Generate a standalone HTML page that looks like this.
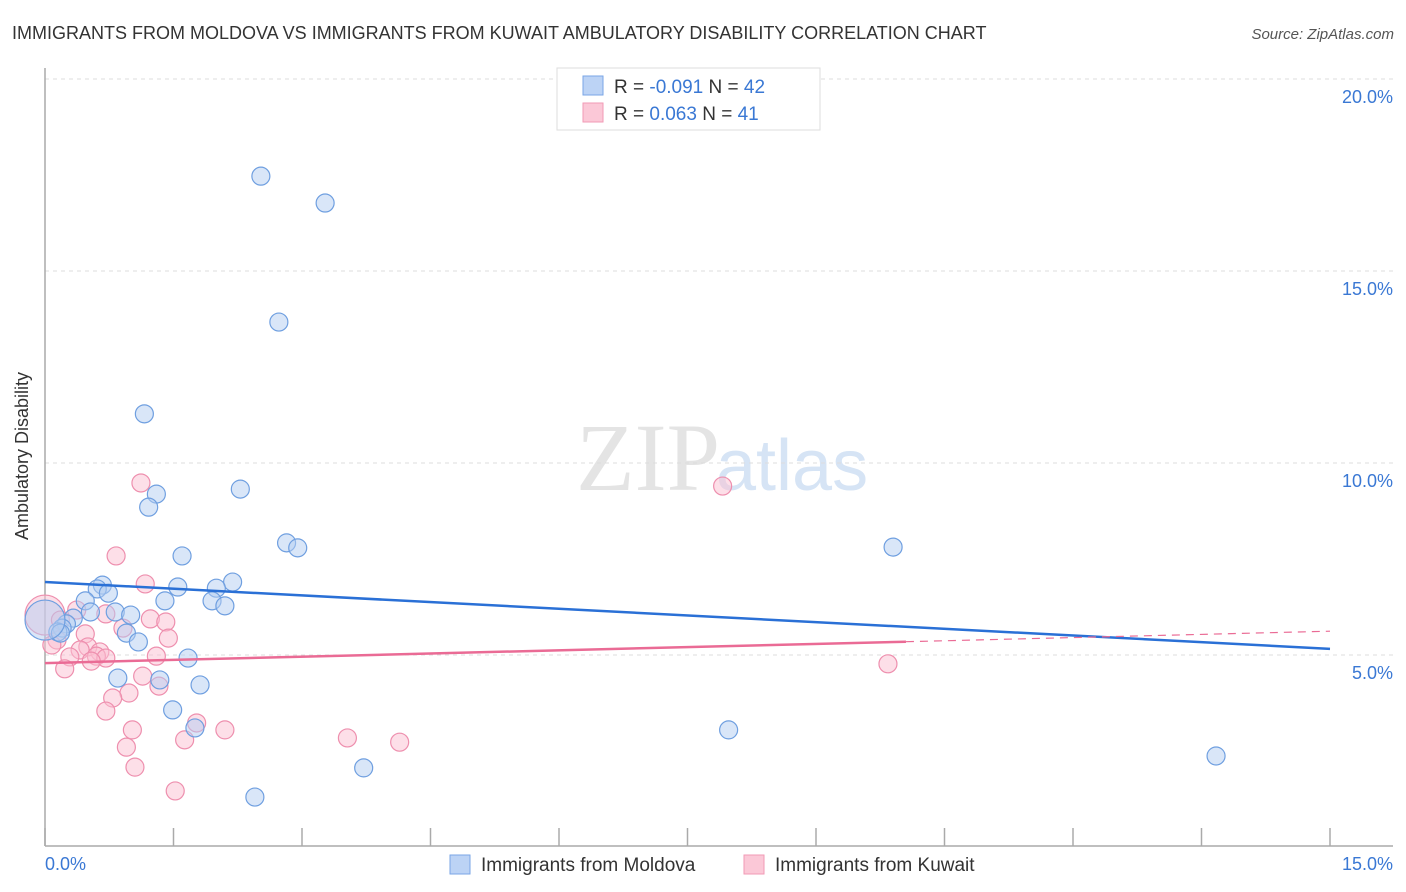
<!DOCTYPE html>
<html><head><meta charset="utf-8"><style>
body{margin:0;background:#fff;font-family:"Liberation Sans",sans-serif;}
svg{display:block}
</style></head><body>
<svg id="chart" width="1406" height="892" xmlns="http://www.w3.org/2000/svg">
<text x="12" y="39" font-size="18" fill="#333">IMMIGRANTS FROM MOLDOVA VS IMMIGRANTS FROM KUWAIT AMBULATORY DISABILITY CORRELATION CHART</text>
<text x="1394" y="39" font-size="15" fill="#555" font-style="italic" text-anchor="end">Source: ZipAtlas.com</text>
<text x="720" y="490" font-size="96" fill="#e4e4e4" text-anchor="end" font-family="Liberation Serif,serif">ZIP</text>
<text x="716" y="490" font-size="72" fill="#d6e4f5">atlas</text>
<g id="grid"></g>
<line x1="45" y1="68" x2="45" y2="846" stroke="#aaa" stroke-width="1.5"/>
<line x1="45" y1="846" x2="1393" y2="846" stroke="#aaa" stroke-width="1.5"/>
<g id="xticks"></g>
<text x="28" y="456" font-size="18" fill="#333" text-anchor="middle" transform="rotate(-90 28 456)">Ambulatory Disability</text>
<text x="45" y="870" font-size="18" fill="#3a78d4">0.0%</text>
<text x="1393" y="870" font-size="18" fill="#3a78d4" text-anchor="end">15.0%</text>
<g id="pts"></g>
<g id="trends"></g>
<g>
<rect x="557" y="68" width="263" height="62" fill="#fff" stroke="#ddd"/>
<rect x="583" y="76" width="20" height="19" fill="#bcd3f5" stroke="#7aa6e6"/>
<rect x="583" y="103" width="20" height="19" fill="#fbc8d7" stroke="#f19ab5"/>
<text x="614" y="93" font-size="19" fill="#333">R = <tspan fill="#3a78d4">-0.091</tspan>   N = <tspan fill="#3a78d4">42</tspan></text>
<text x="614" y="120" font-size="19" fill="#333">R =  <tspan fill="#3a78d4">0.063</tspan>   N =  <tspan fill="#3a78d4">41</tspan></text>
</g>
<g>
<rect x="450" y="855" width="20" height="19" fill="#bcd3f5" stroke="#7aa6e6"/>
<text x="481" y="871" font-size="19" fill="#333">Immigrants from Moldova</text>
<rect x="744" y="855" width="20" height="19" fill="#fbc8d7" stroke="#f19ab5"/>
<text x="775" y="871" font-size="19" fill="#333">Immigrants from Kuwait</text>
</g>
</svg>
<script>
const yTicks=[5,10,15,20];
const yTickLabels=["5.0%","10.0%","15.0%","20.0%"];
const xTicks=[0,1.5,3,4.5,6,7.5,9,10.5,12,13.5,15];
const moldovaX=[2.52,3.27,2.73,1.16,1.30,1.21,2.28,2.82,2.95,1.60,9.90,0.67,0.61,0.74,1.55,2.19,2.00,1.40,1.95,2.10,0.47,0.82,0.53,1.00,0.33,0.25,0.20,0.15,0.95,1.09,1.67,0.85,1.34,1.81,1.49,1.75,7.98,3.72,2.45,13.67,0.18,0.0];
const moldovaY=[17.47,16.77,13.67,11.28,9.19,8.85,9.32,7.92,7.79,7.58,7.81,6.82,6.72,6.61,6.77,6.90,6.74,6.41,6.41,6.28,6.41,6.12,6.12,6.04,5.96,5.81,5.70,5.60,5.57,5.34,4.92,4.40,4.35,4.22,3.57,3.10,3.05,2.06,1.30,2.37,5.57,5.91];
const kuwaitX=[1.12,7.91,0.83,1.17,0.37,0.71,1.23,1.41,0.47,0.91,1.44,0.14,0.08,0.50,0.41,0.64,0.29,0.60,0.71,0.54,1.30,0.23,9.84,1.14,1.33,0.98,0.79,0.71,1.77,2.10,1.02,1.63,3.53,4.14,0.95,1.05,1.52,0.0,0.18];
const kuwaitY=[9.48,9.40,7.58,6.85,6.17,6.07,5.94,5.86,5.55,5.70,5.44,5.39,5.26,5.21,5.13,5.08,4.95,4.97,4.92,4.84,4.97,4.64,4.77,4.45,4.19,4.01,3.88,3.54,3.23,3.05,3.05,2.79,2.84,2.73,2.60,2.08,1.46,6.04,5.91];
const moldovaTrend=[6.90,5.16];
const kuwaitTrend=[4.79,5.62];
const kuwaitSolidEnd=10.05;
const NS="http://www.w3.org/2000/svg";
const sx=v=>45+v/15*1285, sy=v=>847-v/5*192;
function mk(t,a,p){const e=document.createElementNS(NS,t);for(const k in a)e.setAttribute(k,a[k]);p.appendChild(e);return e;}
const grid=document.getElementById('grid');
yTicks.forEach((t,i)=>{
 const l=mk('line',{x1:45,x2:1393,y1:sy(t),y2:sy(t),stroke:'#ddd','stroke-dasharray':'4,4'},grid);
 
 
 const tx=mk('text',{x:1393,y:sy(t)+24,'font-size':18,fill:'#3a78d4','text-anchor':'end'},grid);
 tx.textContent=yTickLabels[i];
 
 
});
const xt=document.getElementById('xticks');
xTicks.forEach(t=>{
 const l=mk('line',{x1:sx(t),x2:sx(t),y1:828,y2:846,stroke:'#aaa','stroke-width':1.5},xt);
 
 
});
const pts=document.getElementById('pts');
function series(X,Y,fill,stroke,name,bigIdx){
 X.forEach((x,i)=>{
  const r=(i===bigIdx)?20:9;
  const c=mk('circle',{cx:sx(x),cy:sy(Y[i]),r:r,fill:fill,'fill-opacity':0.5,stroke:stroke,'stroke-width':1.2},pts);
  
  
 });
}
series(kuwaitX,kuwaitY,'#fbc0d2','#ee8fae','point-kuwait',kuwaitX.length-2);
series(moldovaX,moldovaY,'#b4cdf2','#6f9fe0','point-moldova',moldovaX.length-1);
const tr=document.getElementById('trends');
const bl=mk('line',{x1:sx(0),y1:sy(moldovaTrend[0]),x2:sx(15),y2:sy(moldovaTrend[1]),stroke:'#2a70d6','stroke-width':2.5},tr);


const ym=kuwaitTrend[0]+(kuwaitTrend[1]-kuwaitTrend[0])*kuwaitSolidEnd/15;
const pl=mk('line',{x1:sx(0),y1:sy(kuwaitTrend[0]),x2:sx(kuwaitSolidEnd),y2:sy(ym),stroke:'#ea6b95','stroke-width':2.5},tr);


const pd=mk('line',{x1:sx(kuwaitSolidEnd),y1:sy(ym),x2:sx(15),y2:sy(kuwaitTrend[1]),stroke:'#ea6b95','stroke-width':1.2,'stroke-dasharray':'8,6'},tr);


</script>
</body></html>
